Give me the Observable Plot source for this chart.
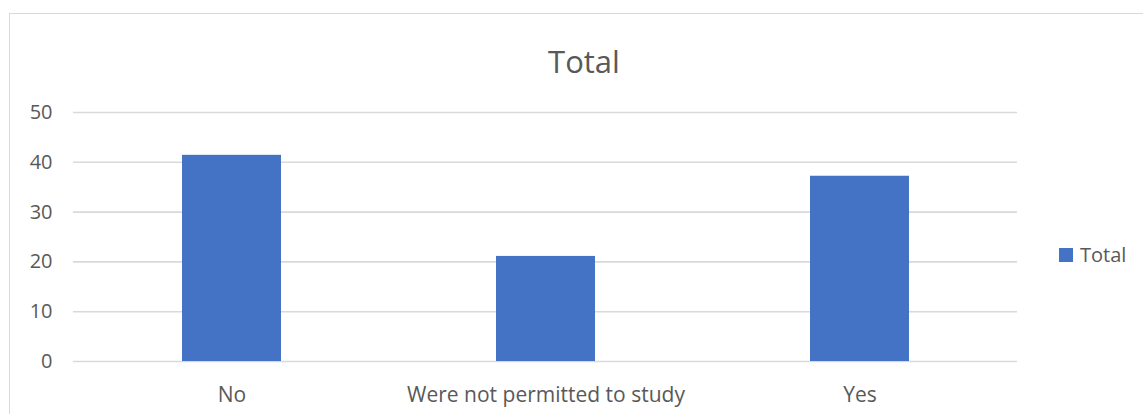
<!DOCTYPE html>
<html>
<head>
<meta charset="utf-8">
<script src="https://cdn.jsdelivr.net/npm/d3@7"></script>
<script src="https://cdn.jsdelivr.net/npm/@observablehq/plot@0.6"></script>
<style>
  html, body { margin: 0; padding: 0; background: #fff; }
  #chart { position: relative; width: 1143px; height: 414px; overflow: hidden; font-family: "Open Sans", sans-serif; color: #595959; }
  #frame { position: absolute; left: 9px; top: 13px; width: 1150px; height: 460px; border: 1.5px solid #d9d9d9; box-sizing: border-box; }
  #title { position: absolute; left: 0; width: 1168px; top: 39px; text-align: center; font-size: 31px; line-height: 44px; }
  #plot { position: absolute; left: 0; top: 0; }
  #legend { position: absolute; left: 1059px; top: 243px; display: flex; align-items: center; font-size: 20px; line-height: 24px; }
  #legend .sw { width: 14px; height: 14px; background: #4472C4; margin-right: 7px; }
</style>
</head>
<body>
<div id="chart">
  <div id="frame"></div>
  <div id="title">Total</div>
  <div id="plot"></div>
  <div id="legend"><span class="sw"></span><span>Total</span></div>
</div>
<script>
// Responses per category
const categories = ["No", "Were not permitted to study", "Yes"];
const totals = [41.4, 21.1, 37.2];
const yTicks = [0, 10, 20, 30, 40, 50];

const rows = categories.map((c, i) => ({category: c, total: totals[i]}));

const chart = Plot.plot({
  width: 1143,
  height: 414,
  marginLeft: 73,
  marginRight: 126,
  marginTop: 112,
  marginBottom: 53,
  style: {fontFamily: "'Open Sans', sans-serif", color: "#595959", background: "transparent"},
  x: {domain: categories, paddingInner: 0.685, paddingOuter: 0.3425, label: null},
  y: {domain: [0, 50], label: null},
  marks: [
    Plot.ruleY(yTicks, {stroke: "#d9d9d9", strokeWidth: 1.6}),
    Plot.barY(rows, {x: "category", y: "total", fill: "#4472C4"}),
    Plot.axisY({ticks: yTicks, tickSize: 0, tickPadding: 21, fontSize: 20, fill: "#595959", label: null}),
    Plot.axisX({tickSize: 0, tickPadding: 26, fontSize: 21, fill: "#595959", label: null})
  ]
});
document.getElementById("plot").appendChild(chart);
</script>
</body>
</html>
